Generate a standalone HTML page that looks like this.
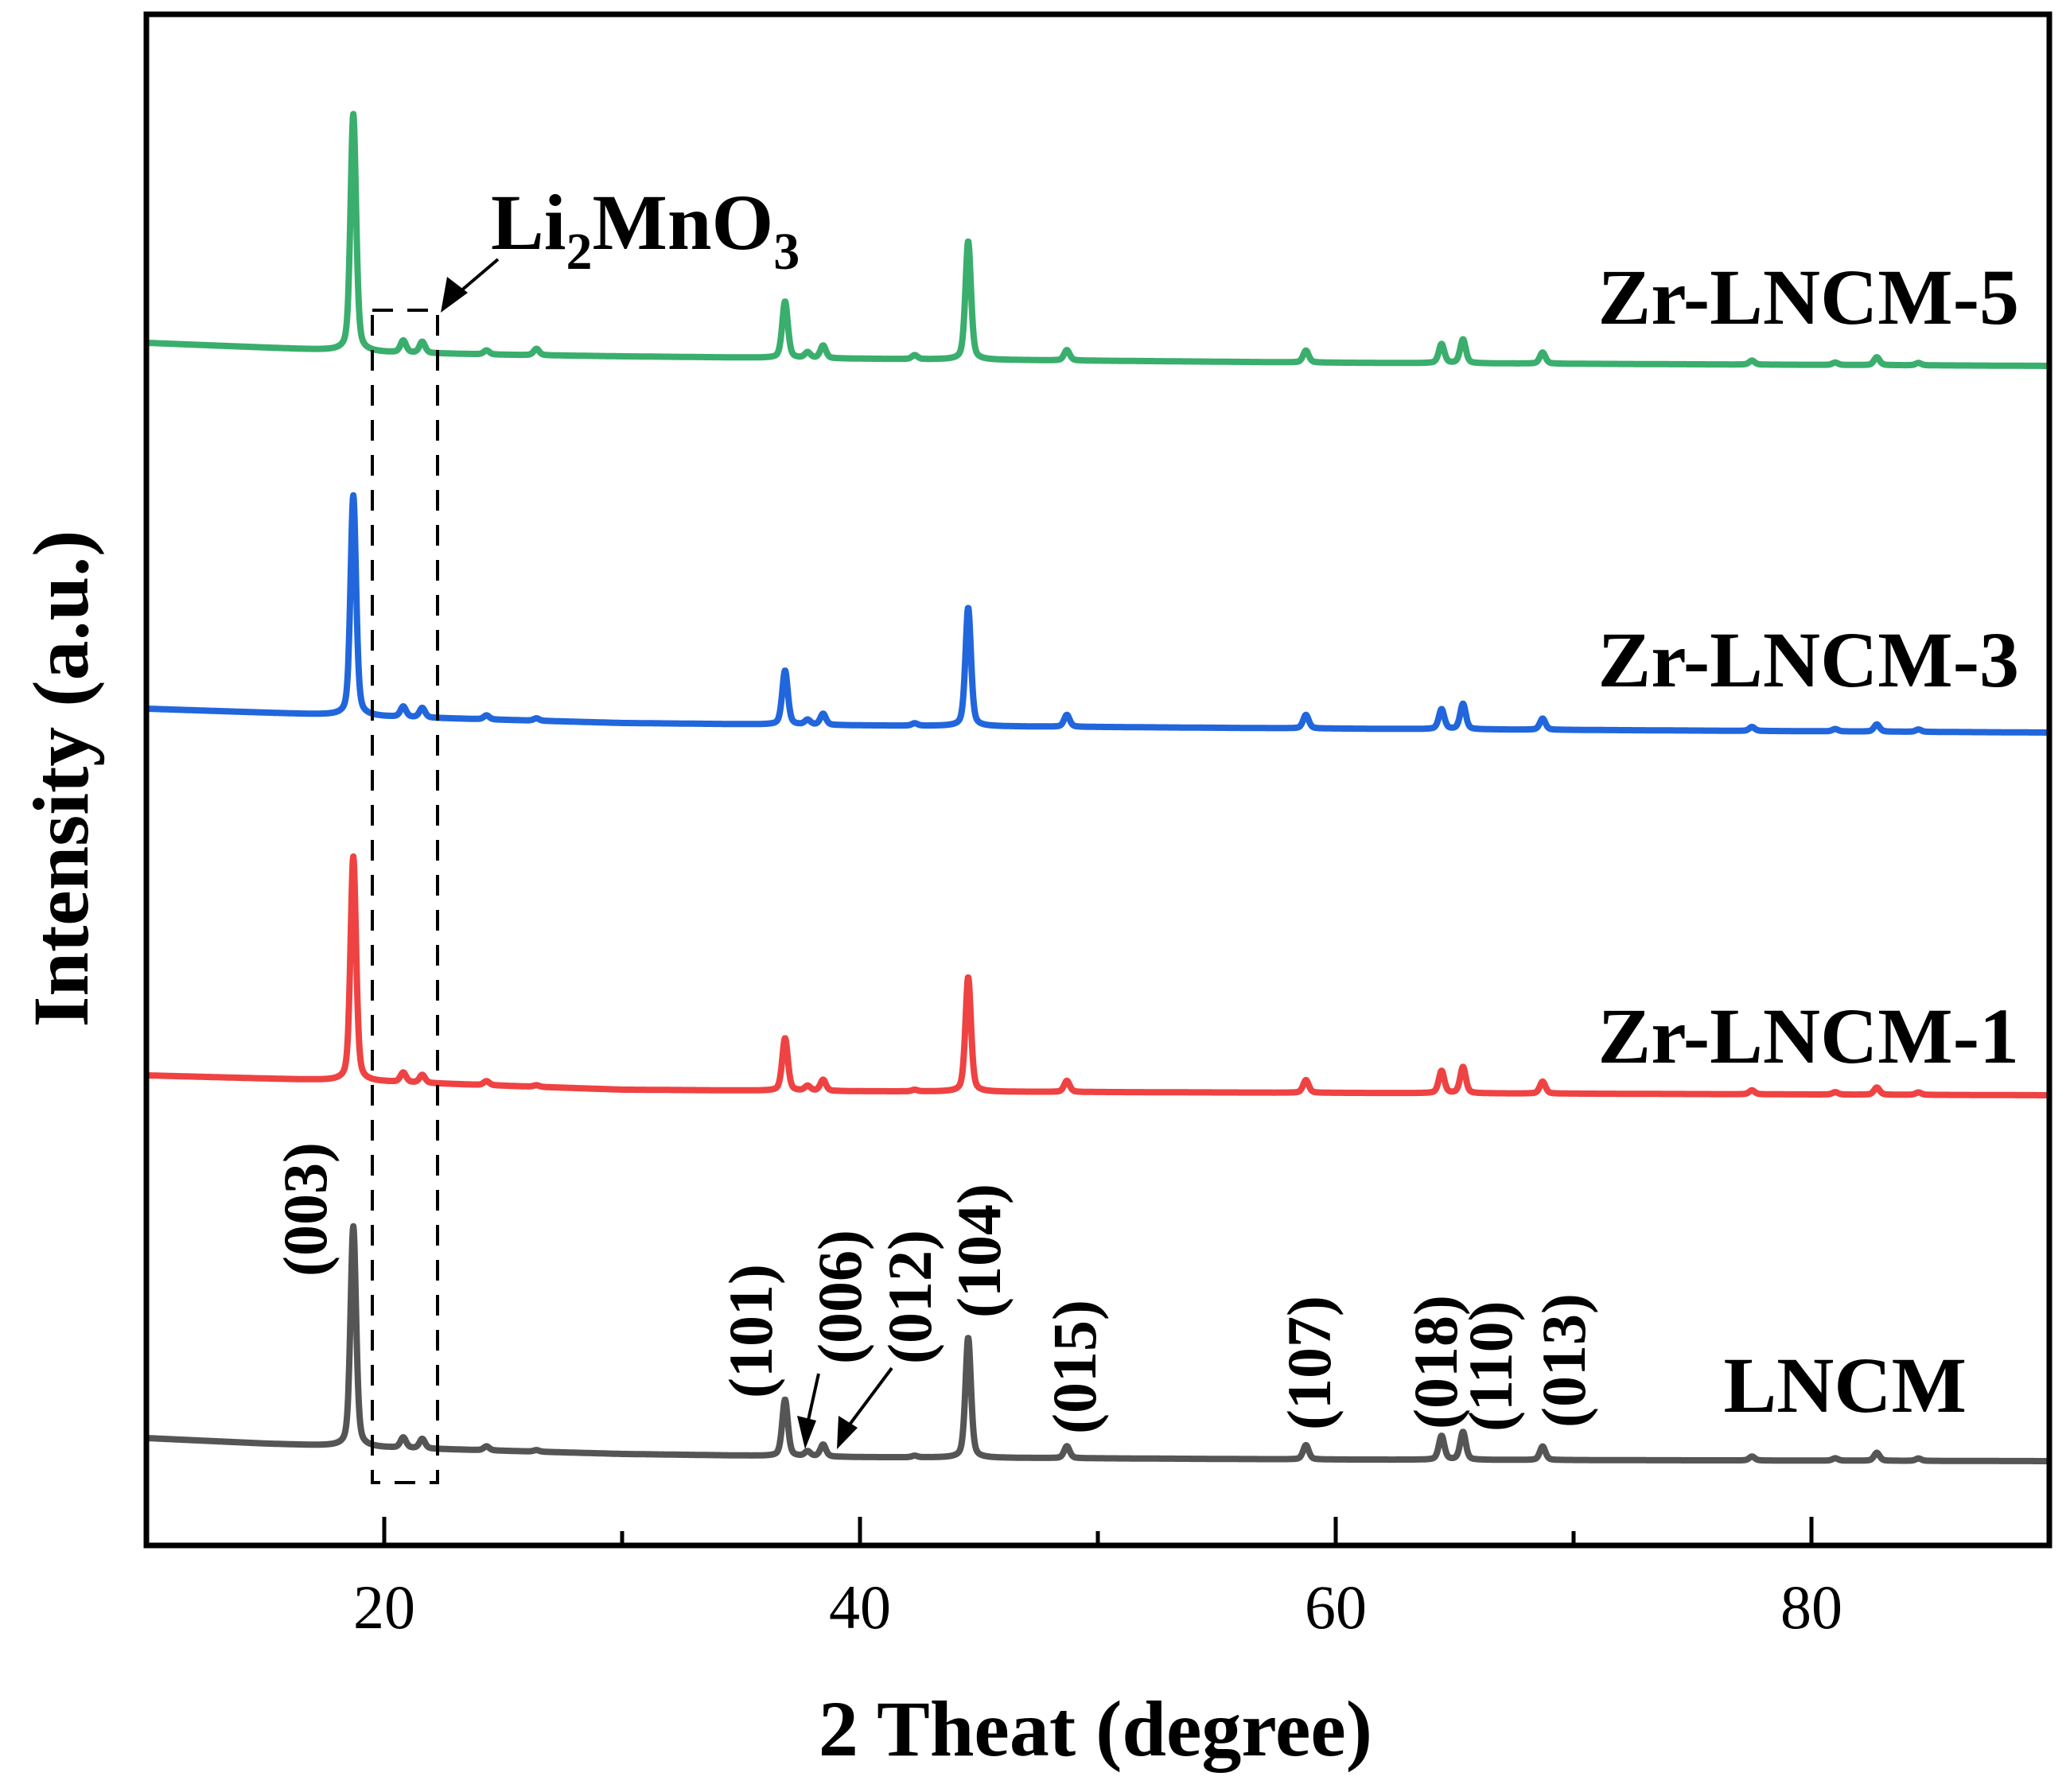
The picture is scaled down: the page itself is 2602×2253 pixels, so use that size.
<!DOCTYPE html>
<html><head><meta charset="utf-8"><style>
html,body{margin:0;padding:0;background:#fff;}
svg{display:block;font-family:"Liberation Serif",serif;}
</style></head><body>
<svg id="chart" width="2602" height="2253" viewBox="0 0 2602 2253" xmlns="http://www.w3.org/2000/svg">
<g id="series"></g>
<rect x="184" y="18" width="2392" height="1925" fill="none" stroke="#000" stroke-width="7"/>
<g id="ticks"></g>
<text x="1377" y="2207" font-size="100" font-weight="bold" text-anchor="middle">2 Theat (degree)</text>
<text transform="translate(110,979) rotate(-90)" font-size="100" font-weight="bold" text-anchor="middle">Intensity (a.u.)</text>
<text x="2538" y="407" font-size="100" font-weight="bold" text-anchor="end">Zr-LNCM-5</text>
<text x="2538" y="863" font-size="100" font-weight="bold" text-anchor="end">Zr-LNCM-3</text>
<text x="2538" y="1336" font-size="100" font-weight="bold" text-anchor="end">Zr-LNCM-1</text>
<text x="2472" y="1775" font-size="100" font-weight="bold" text-anchor="end">LNCM</text>
<text x="617" y="313" font-size="100" font-weight="bold">Li<tspan font-size="66" dy="25">2</tspan><tspan dy="-25">MnO</tspan><tspan font-size="66" dy="25">3</tspan></text>
<rect x="468" y="390" width="82" height="1474" fill="none" stroke="#000" stroke-width="4" stroke-dasharray="26,18"/>
<line x1="626" y1="326" x2="572" y2="372" stroke="#000" stroke-width="4"/>
<polygon points="554,393 562,348 588,368" fill="#000"/>
<line x1="1029" y1="1727" x2="1015" y2="1790" stroke="#000" stroke-width="4"/>
<polygon points="1012,1822 1002,1780 1026,1786" fill="#000"/>
<line x1="1121" y1="1720" x2="1065" y2="1795" stroke="#000" stroke-width="4"/>
<polygon points="1052,1822 1054,1780 1078,1795" fill="#000"/>
<g id="hkl"></g>
</svg>
<script>
const xMin = 10, xMax = 90;
const peakPos = [18.7, 20.8, 21.6, 24.3, 26.4, 36.85, 37.8, 38.45, 42.3, 44.55, 48.7, 58.75, 64.45, 65.35, 68.7, 77.5, 81.0, 82.75, 84.5];
const heightsLNCM = [277, 13, 12, 5, 2, 71, 6, 15, 2, 151, 15, 18, 30, 35, 17, 5, 3, 10, 3];
const heightsZr1 = [282, 12, 10, 5, 2, 66, 6, 14, 2, 144, 14, 16, 28, 33, 15, 5, 3, 9, 3];
const heightsZr3 = [277, 13, 12, 5, 3, 68, 6, 14, 3, 149, 15, 17, 25, 32, 14, 5, 3, 9, 3];
const heightsZr5 = [298, 15, 14, 5, 8, 71, 7, 16, 5, 149, 13, 15, 24, 30, 14, 5, 3, 10, 3];
const baseX = [10, 15, 20, 25, 30, 40, 60, 90];
const baseLNCM = [135, 128, 123, 119, 115, 111, 108, 106];
const baseZr1 = [591, 587, 583, 578, 573, 571, 569, 566];
const baseZr3 = [1052, 1047, 1042, 1038, 1034, 1031, 1027, 1022];
const baseZr5 = [1512, 1506, 1500, 1497, 1495, 1492, 1487, 1483];
const seriesNames = ['lncm', 'zr-lncm-1', 'zr-lncm-3', 'zr-lncm-5'];
const seriesColors = ['#555555', '#ef4242', '#2166dc', '#3aae6d'];
const majorTicks = [20, 40, 60, 80];
const minorTicks = [30, 50, 70];
const hklLabels = ['(003)', '(101)', '(006)', '(012)', '(104)', '(015)', '(107)', '(018)', '(110)', '(013)'];
const hklX = [16.66, 35.38, 39.13, 42.07, 44.98, 48.99, 58.86, 64.18, 66.49, 69.57];
const hklBottom = [338, 185, 228, 228, 286, 140, 145, 146, 143, 148];

const X0 = 184, X1 = 2576, YB = 1943;
function sx(v){ return X0 + (v - xMin) / (xMax - xMin) * (X1 - X0); }
function sy(v){ return YB - v; }
function baseAt(bx, by, x){
  for (let i = 0; i < bx.length - 1; i++) {
    if (x <= bx[i+1]) { const t = (x - bx[i]) / (bx[i+1] - bx[i]); return by[i] + t * (by[i+1] - by[i]); }
  }
  return by[by.length - 1];
}
function profile(x, c, h){
  const w = 0.28, d = (x - c) / (w / 2);
  const g = Math.exp(-Math.log(2) * d * d), l = 1 / (1 + d * d);
  return h * (0.6 * g + 0.4 * l);
}
const allHeights = [heightsLNCM, heightsZr1, heightsZr3, heightsZr5];
const allBases = [baseLNCM, baseZr1, baseZr3, baseZr5];
const sg = document.getElementById('series');
for (let s = 0; s < 4; s++) {
  let d = '';
  for (let x = xMin; x <= xMax + 1e-9; x += 0.02) {
    let v = baseAt(baseX, allBases[s], x);
    for (let k = 0; k < peakPos.length; k++) v += profile(x, peakPos[k], allHeights[s][k]);
    d += (d ? 'L' : 'M') + sx(x).toFixed(1) + ',' + sy(v).toFixed(1);
  }
  const p = document.createElementNS('http://www.w3.org/2000/svg', 'path');
  p.setAttribute('d', d);
  p.setAttribute('fill', 'none');
  p.setAttribute('stroke', seriesColors[s]);
  p.setAttribute('stroke-width', '8');
  p.setAttribute('stroke-linejoin', 'round');
  
  
  sg.appendChild(p);
}
const tg = document.getElementById('ticks');
majorTicks.forEach(t => {
  const l = document.createElementNS('http://www.w3.org/2000/svg', 'line');
  l.setAttribute('x1', sx(t)); l.setAttribute('x2', sx(t));
  l.setAttribute('y1', YB); l.setAttribute('y2', YB - 36);
  l.setAttribute('stroke', '#000'); l.setAttribute('stroke-width', '5');
  
  
  tg.appendChild(l);
  const tx = document.createElementNS('http://www.w3.org/2000/svg', 'text');
  tx.setAttribute('x', sx(t)); tx.setAttribute('y', 2047);
  tx.setAttribute('font-size', '78'); tx.setAttribute('text-anchor', 'middle');
  tx.textContent = t;
  
  
  tg.appendChild(tx);
});
minorTicks.forEach(t => {
  const l = document.createElementNS('http://www.w3.org/2000/svg', 'line');
  l.setAttribute('x1', sx(t)); l.setAttribute('x2', sx(t));
  l.setAttribute('y1', YB); l.setAttribute('y2', YB - 18);
  l.setAttribute('stroke', '#000'); l.setAttribute('stroke-width', '5');
  
  
  tg.appendChild(l);
});
const hg = document.getElementById('hkl');
hklLabels.forEach((lab, i) => {
  const t = document.createElementNS('http://www.w3.org/2000/svg', 'text');
  const x = sx(hklX[i]) + 27, y = sy(hklBottom[i]);
  t.setAttribute('transform', 'translate(' + x + ',' + y + ') rotate(-90)');
  t.setAttribute('font-size', '78'); t.setAttribute('font-weight', 'bold');
  t.textContent = lab;
  
  
  hg.appendChild(t);
});
</script>
</body></html>
